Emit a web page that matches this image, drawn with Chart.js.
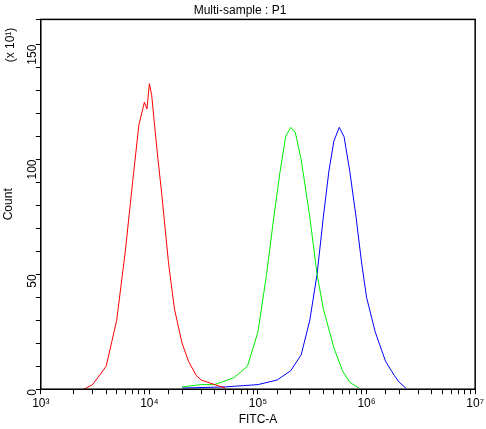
<!DOCTYPE html><html><head><script src="https://cdn.jsdelivr.net/npm/chart.js@4"></script>
<style>body{margin:0;background:#fff}#w{width:486px;height:429px}</style></head><body><div id="w"><canvas id="c"></canvas></div>
<script>
const redX=[2.5e3,3e3,4e3,5e3,6e3,7e3,8e3,9e3,9.5e3,1e4,1.05e4,1.1e4,1.2e4,1.3e4,1.5e4,1.7e4,2e4,2.3e4,2.7e4,3e4,4e4,5e4];
const redY=[0,2,10,30,60,90,115,125,122,133,128,118,100,85,55,35,20,12,6,4,2,0.5];
const greenX=[2e4,3e4,4e4,6e4,8e4,1e5,1.2e5,1.4e5,1.6e5,1.8e5,2e5,2.2e5,2.5e5,3e5,3.5e5,4e5,5e5,6e5,7e5,8.5e5];
const greenY=[1,2,2,5,10,25,50,75,95,110,114,112,100,75,50,35,18,8,3,0.5];
const blueX=[2e4,5e4,1e5,1.5e5,2e5,2.5e5,3e5,3.5e5,4e5,4.5e5,5e5,5.6e5,6.2e5,7e5,8e5,9e5,1e6,1.2e6,1.5e6,1.8e6,2e6,2.3e6];
const blueY=[0.5,1,2,4,8,15,30,50,75,95,108,114,110,95,75,55,40,25,12,6,3,0.5];
const sup={3:'³',4:'⁴',5:'⁵',6:'⁶',7:'⁷'};
const mk=(xs,ys)=>xs.map((x,i)=>({x,y:ys[i]}));
const extra={id:'extra',afterDraw(ch){const c=ch.ctx,a=ch.chartArea;c.save();c.strokeStyle='#000';c.lineWidth=1.5;c.strokeRect(a.left,a.top,a.right-a.left,a.bottom-a.top);
c.fillStyle='#000';c.font='12px "Liberation Sans"';c.translate(14,45);c.rotate(-Math.PI/2);c.textAlign='center';c.fillText('(x 10¹)',0,0);c.restore();}};
const f={family:'Liberation Sans',size:12,weight:'normal'};
new Chart(document.getElementById('c'),{type:'line',data:{datasets:[
{data:mk(redX,redY),borderColor:'#ff0000'},{data:mk(greenX,greenY),borderColor:'#00ee00'},{data:mk(blueX,blueY),borderColor:'#0000ff'}]},
options:{animation:false,responsive:true,maintainAspectRatio:false,layout:{padding:{top:2,right:7,left:1,bottom:0}},
elements:{point:{radius:0},line:{borderWidth:1,tension:0}},
plugins:{legend:{display:false},tooltip:{enabled:false},title:{display:true,text:'Multi-sample : P1',color:'#000',font:f,padding:{top:1,bottom:2}}},
scales:{x:{type:'logarithmic',min:1e3,max:1e7,grid:{display:true,drawOnChartArea:false,tickLength:5,tickColor:'#000'},border:{color:'#000'},
ticks:{autoSkip:false,maxRotation:0,padding:2,color:'#000',font:f,callback:(v)=>{const l=Math.log10(v);return Math.abs(l-Math.round(l))<1e-9?'10'+sup[Math.round(l)]:'';}},
title:{display:true,text:'FITC-A',color:'#000',font:f,padding:{top:0,bottom:2}}},
y:{min:0,max:161,grid:{display:true,drawOnChartArea:false,tickLength:5,tickColor:'#000'},border:{color:'#000'},
ticks:{stepSize:10,autoSkip:false,minRotation:90,maxRotation:90,padding:3,color:'#000',font:f,callback:(v)=>v%50===0?v:''},
title:{display:true,text:'Count',color:'#000',font:f,padding:{top:0,bottom:0}}}}},plugins:[extra]});
</script></body></html>
